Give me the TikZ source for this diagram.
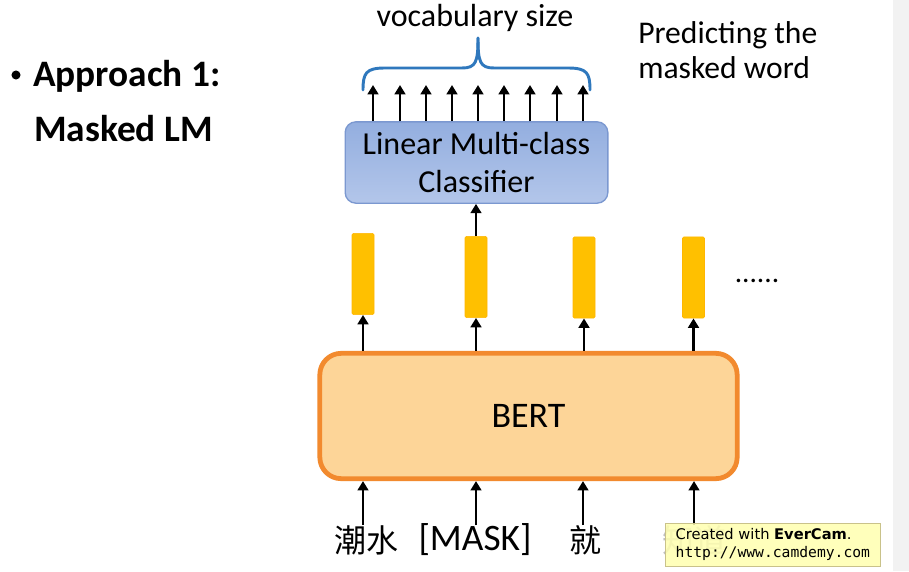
\documentclass[tikz,border=0pt]{standalone}
\usepackage{fontspec}
\setmainfont{Carlito}
\newfontfamily\cjk{Noto Sans CJK SC}
\newfontfamily\wmsans{DejaVu Sans}
\newfontfamily\wmmono{DejaVu Sans Mono}
\usetikzlibrary{arrows.meta}
\definecolor{bertfill}{HTML}{FDD598}
\definecolor{bertdraw}{HTML}{F28A2E}
\definecolor{clsdraw}{HTML}{7B98D0}
\definecolor{clstop}{HTML}{93AEDF}
\definecolor{clsbot}{HTML}{B3C6EA}
\definecolor{barfill}{HTML}{FFC000}
\definecolor{bracecol}{HTML}{2F78BD}
\definecolor{wmfill}{HTML}{FFFFB0}
\definecolor{wmdraw}{HTML}{C9C28A}
\definecolor{stripcol}{HTML}{F2F2F2}
\tikzset{
  arr/.style={line width=2.2pt, -{Triangle[width=8pt,length=7pt]}},
  vecbar/.style={fill=barfill, draw=barfill!85!orange, line width=0.4pt, minimum width=16.5pt, minimum height=61pt, inner sep=0pt, rounded corners=1pt},
  tok/.style={font=\fontsize{28}{30}\selectfont, anchor=center, inner sep=0pt},
  cjktok/.style={font=\fontsize{24}{28}\selectfont\cjk, anchor=center, inner sep=0pt},
  lbl/.style={font=\fontsize{23.7}{26.5}\selectfont, align=left, inner sep=0pt},
  ttl/.style={anchor=west, inner sep=0pt, font=\fontsize{28}{32}\selectfont\bfseries},
}
\begin{document}
\begin{tikzpicture}[x=0.75pt,y=-0.75pt]
\useasboundingbox (0,0) rectangle (909,571);
\fill[white] (0,0) rectangle (909,571);
\fill[stripcol] (893,0) rectangle (909,571);

% left title
\fill (16,75) circle (3.4pt);
\node[ttl] (t1) at (33,76) {Approach 1:};
\node[ttl] (t2) at (34,129) {Masked LM};

% right note
\node[lbl, anchor=north west] (note) at (638,21) {Predicting the\\masked word};

% vocabulary size
\node[lbl, anchor=center, font=\fontsize{24}{26}\selectfont] (voc) at (475,18) {vocabulary size};

% brace
\draw[bracecol, line width=2.2pt, line cap=round]
  (363,90) .. controls (363,73) and (366,68) .. (385,68) -- (462,68)
  .. controls (476,68) and (478,62) .. (478,38);
\draw[bracecol, line width=2.2pt, line cap=round]
  (590,90) .. controls (590,73) and (587,68) .. (568,68) -- (494,68)
  .. controls (480,68) and (478,62) .. (478,38);

% classifier
\node[draw=clsdraw, line width=1pt, rounded corners=8pt, top color=clstop, bottom color=clsbot,
      minimum width=197pt, minimum height=61pt, align=center,
      font=\fontsize{24}{28}\selectfont] (cls) at (476.5,162.5) {Linear Multi-class\\Classifier};

% output arrows
\foreach \i/\xx in {1/373,2/400,3/426,4/452,5/478,6/504,7/530,8/557,9/583}{
  \coordinate (v\i) at (\xx,85);
  \draw[arr] (cls.north -| v\i) -- (v\i);
}

% vectors
\node[vecbar] (b1) at (363,274) {};
\node[vecbar] (b2) at (476,277) {};
\node[vecbar] (b3) at (584,277.5) {};
\node[vecbar] (b4) at (693.5,277.5) {};
\node[inner sep=0pt, font=\fontsize{22}{24}\selectfont] (dots) at (757,281) {......};

\draw[arr] (b2.north) -- (cls.south -| b2);

% BERT
\node[draw=bertdraw, fill=bertfill, line width=3.6pt, rounded corners=16pt,
      minimum width=313pt, minimum height=94pt,
      font=\fontsize{27}{30}\selectfont] (bert) at (528.5,416) {BERT};

\foreach \i in {1,2,3,4}{
  \draw[arr] (bert.north -| b\i) -- (b\i.south);
}

% tokens
\node[cjktok] (w1) at (366,540) {潮水};
\node[tok] (w2) at (475,540) {[MASK]};
\node[cjktok] (w3) at (585,540) {就};
\node[cjktok, text=black!25] (w4) at (694,540) {知道};

\foreach \i/\xx in {1/363,2/476,3/583,4/694}{
  \coordinate (in\i) at (\xx,525);
  \draw[arr] (in\i) -- (bert.south -| in\i);
}

% watermark
\node[draw=wmdraw, fill=wmfill, fill opacity=0.85, text opacity=1, line width=0.8pt,
      minimum width=161pt, minimum height=32pt, align=left, inner sep=2pt, anchor=north west,
      font=\fontsize{11}{13.5}\selectfont] (wm) at (665,523)
  {\wmsans Created with \textbf{EverCam}.\\\wmmono http://www.camdemy.com};
\end{tikzpicture}
\end{document}
